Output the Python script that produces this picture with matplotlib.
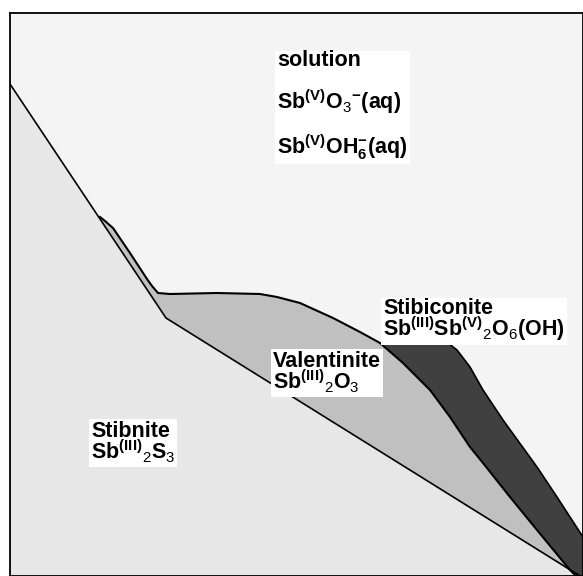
import matplotlib
matplotlib.use("Agg")
import matplotlib.pyplot as plt

plt.rcParams['font.family'] = ['Liberation Sans', 'DejaVu Sans']
plt.rcParams['mathtext.fontset'] = 'custom'
plt.rcParams['mathtext.rm'] = 'Liberation Sans:bold'
plt.rcParams['mathtext.it'] = 'Liberation Sans:bold'
plt.rcParams['mathtext.bf'] = 'Liberation Sans:bold'
plt.rcParams['mathtext.sf'] = 'Liberation Sans'

# boundaries (image pixel units, y grows downward)
# stibnite / everything above it
stibnite_x = [10, 100, 166, 572, 590]
stibnite_y = [84, 219, 318, 571, 582]

# upper edge of valentinite (solution side, then stibiconite side)
valent_top_x = [100, 105, 113, 130, 147, 152, 158, 170, 217, 260, 277, 300, 333, 360, 380,
                403, 430, 450, 470, 483, 510, 537, 570, 578]
valent_top_y = [217, 221, 228, 253, 279, 286, 293, 294, 293, 294, 297, 303, 318, 332, 343,
                363, 390, 417, 447, 463, 497, 530, 570, 578]

# right edge of stibiconite (solution side)
stibic_top_x = [380, 448, 457, 470, 483, 503, 537, 557, 583, 590]
stibic_top_y = [343, 343, 350, 367, 390, 420, 467, 497, 537, 548]

solution_lines = ["solution",
                  r"Sb$^{(V)}$O$_{\mathsf{3}}$$^{-}$(aq)",
                  r"Sb$^{(V)}$OH$_{6}^{-}$(aq)"]
label_stibnite = "Stibnite\n" + r"Sb$^{(III)}{}_{\mathsf{2}}$S$_{\mathsf{3}}$"
label_valent = "Valentinite\n" + r"Sb$^{(III)}{}_{\mathsf{2}}$O$_{\mathsf{3}}$"
label_stibic = "Stibiconite\n" + r"Sb$^{(III)}$Sb$^{(V)}{}_{\mathsf{2}}$O$_{\mathsf{6}}$(OH)"

c_solution = '#f4f4f4'
c_stibnite = '#e7e7e7'
c_valent = '#c0c0c0'
c_stibic = '#404040'

fig = plt.figure(figsize=(5.83, 5.76), dpi=100)
fig.patch.set_facecolor('white')
ax = fig.add_axes([10 / 583, 0, 1 - 10 / 583, 1 - 13 / 576])
ax.set_xlim(10, 583)
ax.set_ylim(576, 13)
ax.set_facecolor(c_solution)
ax.set_xticks([])
ax.set_yticks([])
for s in ax.spines.values():
    s.set_linewidth(1.3)

# stibnite: below its boundary
ax.fill(stibnite_x + [590, 10], stibnite_y + [600, 600], color=c_stibnite, lw=0)

# valentinite: between its top edge and the stibnite line
lower_x = [x for x in stibnite_x if x >= 100]
lower_y = [y for x, y in zip(stibnite_x, stibnite_y) if x >= 100]
ax.fill(valent_top_x + lower_x[::-1], valent_top_y + lower_y[::-1], color=c_valent, lw=0)

# stibiconite: between its top edge and valentinite
i0 = valent_top_x.index(380)
ax.fill(stibic_top_x + [590] + valent_top_x[i0:][::-1],
        stibic_top_y + [600] + valent_top_y[i0:][::-1], color=c_stibic, lw=0)

ax.plot(stibnite_x, stibnite_y, color='black', lw=1.2)
ax.plot(valent_top_x, valent_top_y, color='black', lw=1.5)
ax.plot(stibic_top_x, stibic_top_y, color='black', lw=1.2)

box = dict(facecolor='white', edgecolor='none', pad=1.5)
ax.text(277, 50, "\n".join(solution_lines), fontsize=15.5, fontweight='bold',
        ha='left', va='top', linespacing=1.75, bbox=box)
ax.text(91, 421, label_stibnite, fontsize=15.5, fontweight='bold',
        ha='left', va='top', linespacing=0.8, bbox=box)
ax.text(273, 351, label_valent, fontsize=15.5, fontweight='bold',
        ha='left', va='top', linespacing=0.8, bbox=box)
ax.text(383, 298, label_stibic, fontsize=15.5, fontweight='bold',
        ha='left', va='top', linespacing=0.8, bbox=box)

fig.savefig("out.png", dpi=100)
